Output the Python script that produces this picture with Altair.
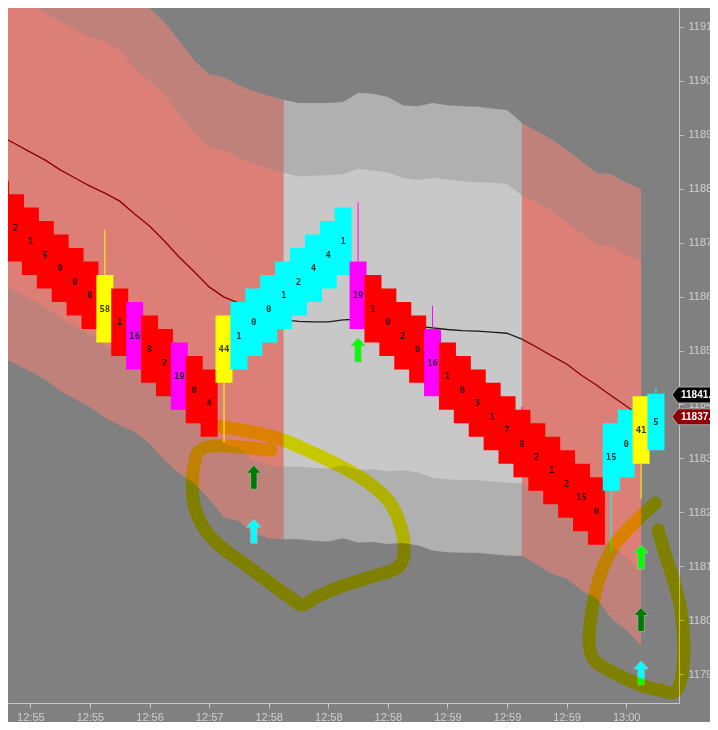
import altair as alt
import pandas as pd

# ---------------- data ----------------
# bricks (index = bar number)
brick_color = (["red"] * 7
               + ["yellow", "red", "magenta", "red", "red", "magenta", "red", "red", "yellow"]
               + ["cyan"] * 8 + ["magenta"] + ["red"] * 4 + ["magenta"] + ["red"] * 11
               + ["cyan", "cyan", "yellow", "cyan"])
brick_label = ["", "2", "1", "5", "0", "0", "0", "58", "1", "16", "8", "2", "19", "0", "4",
               "44", "1", "0", "0", "1", "2", "4", "4", "1", "19", "1", "0", "2", "6", "16",
               "1", "0", "3", "1", "7", "9", "2", "1", "2", "15", "0", "15", "0", "41", "5"]
brick_high = [11881.5, 11879.0, 11876.5, 11874.0, 11871.5, 11869.0, 11866.5, 11864.0, 11861.5,
              11859.0, 11856.5, 11854.0, 11851.5, 11849.0, 11846.5, 11856.5, 11859.0, 11861.5,
              11864.0, 11866.5, 11869.0, 11871.5, 11874.0, 11876.5, 11866.5, 11864.0, 11861.5,
              11859.0, 11856.5, 11854.0, 11851.5, 11849.0, 11846.5, 11844.0, 11841.5, 11839.0,
              11836.5, 11834.0, 11831.5, 11829.0, 11826.5, 11836.5, 11839.0, 11841.5, 11842.0]
brick_low = [11869.0, 11866.5, 11864.0, 11861.5, 11859.0, 11856.5, 11854.0, 11851.5, 11849.0,
             11846.5, 11844.0, 11841.5, 11839.0, 11836.5, 11834.0, 11844.0, 11846.5, 11849.0,
             11851.5, 11854.0, 11856.5, 11859.0, 11861.5, 11864.0, 11854.0, 11851.5, 11849.0,
             11846.5, 11844.0, 11841.5, 11839.0, 11836.5, 11834.0, 11831.5, 11829.0, 11826.5,
             11824.0, 11821.5, 11819.0, 11816.5, 11814.0, 11824.0, 11826.5, 11829.0, 11831.5]

# wicks
wick_i = [7, 15, 24, 29, 35, 41, 43, 44]
wick_from = [11864.0, 11844.0, 11866.5, 11854.0, 11839.0, 11824.0, 11829.0, 11842.0]
wick_to = [11872.4, 11833.0, 11877.5, 11858.3, 11839.5, 11812.5, 11822.5, 11843.0]
wick_color = ["yellow", "yellow", "magenta", "magenta", "red", "cyan", "yellow", "cyan"]

# channel (bars 0..43)
U2 = [11930.7, 11929.1, 11927.5, 11926.0, 11924.5, 11923.0, 11921.5, 11920.8, 11919.3, 11915.7,
      11913.5, 11910.9, 11907.4, 11903.8, 11901.2, 11900.7, 11899.2, 11898.1, 11897.2, 11896.5,
      11895.9, 11895.9, 11895.9, 11896.1, 11897.8, 11897.6, 11897.0, 11895.5, 11895.3, 11895.9,
      11895.5, 11895.3, 11895.2, 11894.9, 11894.6, 11892.2, 11890.7, 11889.2, 11887.2, 11885.1,
      11882.9, 11882.7, 11881.1, 11880.0]
U1 = [11917.2, 11915.6, 11914.0, 11912.5, 11911.0, 11909.5, 11908.0, 11907.3, 11905.8, 11902.2,
      11900.0, 11897.4, 11893.9, 11890.3, 11887.7, 11887.2, 11885.7, 11884.6, 11883.7, 11882.9,
      11882.3, 11882.4, 11882.5, 11882.7, 11883.7, 11883.4, 11883.0, 11882.0, 11881.6, 11882.0,
      11881.7, 11881.4, 11881.2, 11881.1, 11880.9, 11878.8, 11877.4, 11875.9, 11873.8, 11871.8,
      11869.6, 11869.4, 11867.7, 11866.6]
MA = [11889.8, 11888.3, 11886.8, 11885.3, 11883.5, 11882.0, 11880.5, 11879.2, 11877.7, 11875.3,
      11873.1, 11870.3, 11867.3, 11864.6, 11861.8, 11859.9, 11858.8, 11857.1, 11856.2, 11855.7,
      11855.4, 11855.3, 11855.3, 11855.7, 11855.8, 11855.7, 11855.3, 11854.9, 11854.5, 11854.2,
      11853.9, 11853.7, 11853.6, 11853.4, 11853.2, 11852.1, 11850.6, 11849.0, 11847.5, 11845.4,
      11843.6, 11841.6, 11839.7, 11837.7]
L1 = [11862.4, 11861.0, 11859.6, 11858.1, 11856.0, 11854.5, 11853.0, 11851.1, 11849.6, 11848.4,
      11846.2, 11843.2, 11840.7, 11838.9, 11835.9, 11832.6, 11831.9, 11829.6, 11828.7, 11828.5,
      11828.5, 11828.2, 11828.1, 11828.7, 11827.9, 11828.0, 11827.6, 11827.8, 11827.4, 11826.4,
      11826.1, 11826.0, 11826.0, 11825.7, 11825.5, 11825.4, 11823.8, 11822.1, 11821.2, 11819.0,
      11817.6, 11813.8, 11811.7, 11808.8]
L2 = [11848.9, 11847.5, 11846.1, 11844.6, 11842.5, 11841.0, 11839.5, 11837.6, 11836.1, 11834.9,
      11832.7, 11829.7, 11827.2, 11825.4, 11822.4, 11819.1, 11818.4, 11816.1, 11815.2, 11815.0,
      11815.0, 11814.7, 11814.6, 11815.2, 11814.4, 11814.5, 11814.1, 11814.3, 11813.9, 11812.9,
      11812.6, 11812.5, 11812.5, 11812.2, 11812.0, 11811.9, 11810.3, 11808.6, 11807.7, 11805.5,
      11804.1, 11800.3, 11798.2, 11795.3]
segments = [("A", 0, 19, "down"), ("B", 19, 35, "up"), ("C", 35, 43, "down")]

# signal arrows
arrow_i = [17, 17, 24, 43, 43, 43]
arrow_v = [11826.5, 11816.5, 11850.1, 11811.7, 11800.1, 11790.2]
arrow_col = ["#007A00", "#00FFFF", "#00FF00", "#00FF00", "#007A00", "#00FFFF"]

# hand-drawn loops (bar index, price)
loop1_i = [14.52, 16.84, 18.95, 20.81, 22.79, 24.64, 26.10, 26.89, 27.09, 26.63, 25.11, 23.12,
           21.34, 20.28, 19.48, 17.83, 16.18, 14.66, 13.60, 13.00, 12.87, 13.00, 13.27, 14.19,
           16.18, 18.16]
loop1_v = [11836.0, 11834.9, 11833.4, 11831.2, 11828.6, 11825.6, 11821.9, 11817.1, 11812.4,
           11809.7, 11808.2, 11806.5, 11804.5, 11802.8, 11804.1, 11807.4, 11810.8, 11813.9,
           11817.3, 11821.3, 11825.1, 11828.8, 11831.2, 11832.3, 11832.1, 11831.5]
loop2_i = [43.96, 42.76, 41.31, 40.38, 39.79, 39.52, 39.85, 41.18, 42.83, 44.29, 45.28, 45.74,
           45.87, 45.67, 45.21, 44.62, 44.15]
loop2_v = [11821.7, 11818.6, 11814.3, 11809.3, 11803.2, 11796.3, 11792.6, 11790.2, 11788.1,
           11787.0, 11786.7, 11789.8, 11795.4, 11801.9, 11807.1, 11812.1, 11816.7]

# price tags on the right axis
tag_v = [11841.75, 11837.70]
tag_fill = ["#000000", "#8B0000"]

# x tick labels (every 4 bars, starting at bar 2)
tick_idx = [2, 6, 10, 14, 18, 22, 26, 30, 34, 38, 42]
tick_lab = ["12:55", "12:55", "12:56", "12:57", "12:58", "12:58", "12:58", "12:59", "12:59",
            "12:59", "13:00"]
y_ticks = list(range(11790, 11911, 10))

# ---------------- styles ----------------
W, H = 671, 695
BG = "#808080"
AX = "#C8C8C8"
LAB = "#D0D0D0"
brick_dom = ["red", "cyan", "yellow", "magenta"]
brick_rng = ["#FF0000", "#00FFFF", "#FFFF00", "#FF00FF"]
ARROW = "M 0 -1 L 0.62 -0.34 L 0.27 -0.34 L 0.27 1 L -0.27 1 L -0.27 -0.34 L -0.62 -0.34 Z"
TAG = "M 0 0 L 0.3 -0.4 L 3.5 -0.4 L 3.5 0.4 L 0.3 0.4 Z"

# ---------------- tables ----------------
bricks = pd.DataFrame({"i": list(range(len(brick_low))), "low": brick_low, "high": brick_high,
                       "c": brick_color, "lab": brick_label})
bricks["mid"] = (bricks["low"] + bricks["high"]) / 2
wicks = pd.DataFrame({"i": wick_i, "a": wick_from, "b": wick_to, "c": wick_color})

rows = []
for name, a, b, kind in segments:
    for i in range(a, b + 1):
        rows.append(dict(seg=name, i=i, u2=U2[i], u1=U1[i], ma=MA[i], l1=L1[i], l2=L2[i],
                         outer="#C0817B" if kind == "down" else "#B0B0B0",
                         inner="#DC8077" if kind == "down" else "#C8C8C8",
                         line="#8B0000" if kind == "down" else "#1A1A1A"))
band = pd.DataFrame(rows)

arrows = pd.DataFrame({"i": arrow_i, "v": arrow_v, "c": arrow_col})
loops = pd.DataFrame({
    "i": loop1_i + loop2_i,
    "v": loop1_v + loop2_v,
    "loop": ["a"] * len(loop1_i) + ["b"] * len(loop2_i),
    "k": list(range(len(loop1_i))) + list(range(len(loop2_i))),
})
tags = pd.DataFrame({"v": tag_v, "f": tag_fill, "t": [f"{v:.2f}" for v in tag_v]})

# ---------------- scales / axes ----------------
xs = alt.Scale(domain=[0.833, 45.21], nice=False, zero=False)
ys = alt.Scale(domain=[11784.63, 11913.52], nice=False, zero=False)
lab_js = "[" + ",".join(f"'{t}'" for t in tick_lab) + "]"
x_axis = alt.Axis(values=tick_idx, labelExpr=f"{lab_js}[round((datum.value-2)/4)]",
                  title=None, grid=False, orient="bottom", domainColor=AX, tickColor=AX,
                  tickSize=5, labelColor=LAB, labelFont="Liberation Sans", labelFontSize=11,
                  labelPadding=3, labelFlush=False, labelOverlap=False)
y_axis = alt.Axis(values=y_ticks, format=".2f", title=None, grid=False, orient="right",
                  domainColor=AX, tickColor=AX, tickSize=4, labelColor=LAB,
                  labelFont="Liberation Sans", labelFontSize=11, labelPadding=5,
                  labelFlush=False, labelOverlap=False)


def X(f):
    return alt.X(f, scale=xs, axis=x_axis)


def Y(f):
    return alt.Y(f, scale=ys, axis=y_axis)


outer = alt.Chart(band).mark_area(clip=True, interpolate="linear").encode(
    x=X("i:Q"), y=Y("u2:Q"), y2="l2:Q",
    color=alt.Color("outer:N", scale=None), detail="seg:N",
)
inner = alt.Chart(band).mark_area(clip=True).encode(
    x=X("i:Q"), y=Y("u1:Q"), y2="l1:Q",
    color=alt.Color("inner:N", scale=None), detail="seg:N",
)
ma_line = alt.Chart(band).mark_line(clip=True, strokeWidth=1.3).encode(
    x=X("i:Q"), y=Y("ma:Q"),
    color=alt.Color("line:N", scale=None), detail="seg:N",
)
wick_layer = alt.Chart(wicks).mark_rule(clip=True, strokeWidth=1).encode(
    x=X("i:Q"), y=Y("a:Q"), y2="b:Q",
    color=alt.Color("c:N", scale=alt.Scale(domain=brick_dom, range=brick_rng), legend=None),
)
bar_layer = alt.Chart(bricks).mark_bar(clip=True, size=17, strokeWidth=0).encode(
    x=X("i:Q"), y=Y("low:Q"), y2="high:Q",
    color=alt.Color("c:N", scale=alt.Scale(domain=brick_dom, range=brick_rng), legend=None),
)
text_layer = alt.Chart(bricks).mark_text(
    clip=True, font="DejaVu Sans Mono", fontSize=9, fontWeight="bold",
    baseline="middle", align="center", color="black", opacity=0.78,
).encode(x=X("i:Q"), y=Y("mid:Q"), text="lab:N")
arrow_layer = alt.Chart(arrows).mark_point(
    shape=ARROW, size=576, filled=True, opacity=1, stroke="#B4B4B4",
    strokeWidth=1, strokeOpacity=0.7,
).encode(x=X("i:Q"), y=Y("v:Q"), fill=alt.Fill("c:N", scale=None))
loop_layer = alt.Chart(loops).mark_line(
    clip=False, color="#FFFF00", strokeWidth=13, strokeCap="round", strokeJoin="round",
    interpolate="cardinal", blend="multiply",
).encode(x=X("i:Q"), y=Y("v:Q"), detail="loop:N", order="k:Q")
tag_layer = alt.Chart(tags).mark_point(
    clip=False, shape=TAG, size=1600, filled=True, opacity=1, stroke="#A8A8A8",
    strokeWidth=1,
).encode(x=alt.value(W - 7), y=Y("v:Q"), fill=alt.Fill("f:N", scale=None))
tag_text = alt.Chart(tags).mark_text(
    clip=False, align="left", baseline="middle", font="Liberation Sans", fontSize=10,
    fontWeight="bold", color="white",
).encode(x=alt.value(W + 2), y=Y("v:Q"), text="t:N")

chart = alt.layer(
    outer, inner, ma_line, wick_layer, bar_layer, text_layer, arrow_layer, loop_layer,
    tag_layer, tag_text,
).properties(
    width=W, height=H,
    padding={"left": 0, "top": 0, "right": 31, "bottom": 19},
    autosize=alt.AutoSizeParams(type="none"),
    background=BG,
).configure_view(stroke=None, fill=BG)

chart.save("out.html", embed_options={"renderer": "svg", "actions": False})
